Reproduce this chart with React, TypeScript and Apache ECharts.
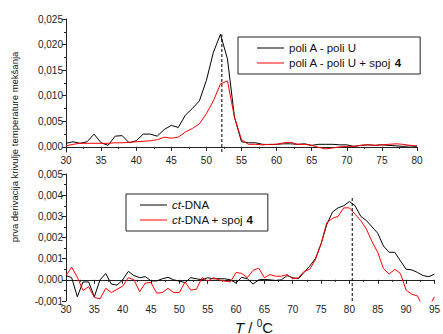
import React, { useEffect, useRef } from "react";
import * as echarts from "echarts";

const tempTop = [30,31,32,33,34,35,36,37,38,39,40,41,42,43,44,45,46,47,48,49,50,51,52,53,54,55,56,57,58,59,60,61,62,63,64,65,66,67,68,69,70,71,72,73,74,75,76,77,78,79,80];
const poliAU = [0.0007,0.001,0.0007,0.001,0.0025,0.0008,0.0003,0.0021,0.0022,0.0008,0.0012,0.0025,0.0025,0.0021,0.0034,0.0042,0.0038,0.0062,0.0075,0.009,0.013,0.0185,0.022,0.0172,0.0058,0.001,0.0008,0.0008,0.0005,0.00045,0.0005,0.0006,0.0006,0.0005,0.0006,0.0003,0.0005,0.0005,0.0005,0.0004,0.0004,0.0001,0.0003,0.0004,0.0003,0.0004,0.0003,0.0002,0.0001,0.0002,0.0001];
const poliAU4 = [0.0002,0.0005,0.0007,0.0007,0.0007,0.0007,0.0007,0.0008,0.0008,0.0009,0.001,0.0011,0.0012,0.0014,0.0019,0.0017,0.0019,0.0029,0.0036,0.0045,0.0065,0.009,0.0123,0.0129,0.0058,0.0014,0.0005,0.0005,0.0004,0.0005,0.0005,0.0008,0.0009,0.0005,0.0005,0.0003,-0.0001,-0.0004,-0.0002,0.0,0.0001,0.0001,0.0003,0.0004,0.0003,0.0004,0.0005,0.0006,0.0005,0.0003,0.0002];
const tempBottom = [30,31,32,33,34,35,36,37,38,39,40,41,42,43,44,45,46,47,48,49,50,51,52,53,54,55,56,57,58,59,60,61,62,63,64,65,66,67,68,69,70,71,72,73,74,75,76,77,78,79,80,81,82,83,84,85,86,87,88,89,90,91,92,93,94,95];
const ctDNA = [0.0002,0.0001,-0.0008,-0.0001,-0.0001,-0.0008,0.0,0.0003,-0.0002,-0.00025,0.0,0.0004,0.0002,0.0001,0.00015,-0.00005,-0.00005,0.00005,0.00012,0.0,-0.00006,-0.00013,0.0001,0.00005,0.0,0.0001,0.00005,0.00005,0.00005,0.0,-0.00015,0.00012,0.00005,-0.0002,0.0,0.00002,0.0,-0.00003,0.0,0.0002,0.0001,0.00005,0.00035,0.00065,0.001,0.0017,0.0026,0.0032,0.0034,0.0035,0.0037,0.0035,0.003,0.0028,0.0025,0.0022,0.0016,0.0013,0.0013,0.0009,0.0005,0.00047,0.00035,0.0002,0.00015,0.00027];
const ctDNA4 = [0.0002,0.0006,0.00012,-0.0005,-0.00033,-0.00083,-0.0009,-0.0004,-0.0006,-0.00045,-0.0003,0.0001,0.0,-0.00056,-0.00015,-0.00013,-0.00063,-0.0006,-0.0004,-0.0006,-0.0006,-0.0001,-0.00048,-0.00045,0.0001,-0.00006,0.0001,0.0,-0.00006,-0.0001,0.00035,0.0003,0.0001,0.00045,0.00055,0.0001,0.00025,0.00017,0.00017,0.00025,0.00005,0.0001,0.0004,0.0005,0.00095,0.0017,0.0027,0.0029,0.003,0.0034,0.0034,0.0031,0.0028,0.0024,0.0018,0.0013,0.00053,0.00027,0.0005,0.0003,-0.00048,-0.00068,-0.00076,-0.0013,-0.0013,-0.0008];
const topMajorY = [0, 0.005, 0.01, 0.015, 0.02, 0.025];
const topMinorY = [0.0025, 0.0075, 0.0125, 0.0175, 0.0225];
const peakTop = [[52.2, -0.001], [52.2, 0.022]];
const peakBottom = [[80.5, -0.001], [80.5, 0.0039]];
const names = ["poli A - poli U", "poli A - poli U + spoj 4", "ct-DNA", "ct-DNA + spoj 4"];

const FONT = "Liberation Sans, Arial, sans-serif";
const fmt = (v: number) => v.toFixed(3).replace(".", ",");
const zip = (xs: number[], ys: number[]) => xs.map((x, i) => [x, ys[i]]);

export default function App() {
  const ref = useRef<HTMLDivElement>(null);
  useEffect(() => {
    document.body.style.margin = "0";
    const chart = echarts.init(ref.current!, null, { renderer: "svg" });
    const axisCommon = {
      axisLine: { lineStyle: { color: "#222", width: 1 } },
      axisTick: { lineStyle: { color: "#222" }, length: 4 },
      minorTick: { show: true, splitNumber: 2, length: 2, lineStyle: { color: "#222" } },
      splitLine: { show: false },
      axisLabel: { color: "#222", fontSize: 10, fontFamily: FONT, margin: 3 },
    };
    const legendCommon = {
      orient: "vertical" as const,
      borderColor: "#222",
      borderWidth: 1,
      borderRadius: 0,
      icon: "rect",
      itemWidth: 27,
      itemHeight: 1,
      itemGap: 3,
      textStyle: {
        fontSize: 11.5,
        fontFamily: FONT,
        color: "#111",
        lineHeight: 12,
        rich: {
          b: { fontWeight: "bold", fontSize: 11.5, fontFamily: FONT, color: "#111" },
          i: { fontStyle: "italic", fontSize: 11.5, fontFamily: FONT, color: "#111" },
        },
      },
      formatter: (n: string) =>
        n.replace(/^ct/, "{i|ct}").replace(/spoj 4$/, "spoj {b|4}"),
    };
    chart.setOption({
      animation: false,
      grid: [
        { left: 66, top: 19, right: 26, height: 133 },
        { left: 66, top: 174, right: 5, height: 127 },
      ],
      xAxis: [
        { ...axisCommon, type: "value", gridIndex: 0, min: 30, max: 80, interval: 5 },
        { ...axisCommon, type: "value", gridIndex: 1, min: 30, max: 95, interval: 5 },
      ],
      yAxis: [
        {
          ...axisCommon,
          type: "value",
          gridIndex: 0,
          position: "left",
          min: -0.001,
          max: 0.025,
          minorTick: { show: false },
          axisTick: { ...axisCommon.axisTick, customValues: topMajorY },
          axisLabel: { ...axisCommon.axisLabel, customValues: topMajorY, formatter: fmt },
        },
        {
          type: "value",
          gridIndex: 0,
          position: "left",
          min: -0.001,
          max: 0.025,
          axisLine: { show: false },
          splitLine: { show: false },
          axisLabel: { show: false },
          axisTick: { show: true, length: 2, lineStyle: { color: "#222" }, customValues: topMinorY },
        },
        {
          ...axisCommon,
          type: "value",
          gridIndex: 1,
          position: "left",
          min: -0.001,
          max: 0.005,
          interval: 0.001,
          axisLabel: { ...axisCommon.axisLabel, formatter: fmt },
        },
      ],
      legend: [
        {
          ...legendCommon,
          data: [names[0], names[1]],
          left: 238,
          top: 37,
          padding: [5, 19, 5, 19],
        },
        {
          ...legendCommon,
          data: [names[2], names[3]],
          left: 126,
          top: 194,
          padding: [5, 15, 5, 14],
        },
      ],
      series: [
        { name: names[0], type: "line", xAxisIndex: 0, yAxisIndex: 0, data: zip(tempTop, poliAU), symbol: "none", lineStyle: { color: "#000", width: 1 }, itemStyle: { color: "#000" } },
        { name: names[1], type: "line", xAxisIndex: 0, yAxisIndex: 0, data: zip(tempTop, poliAU4), symbol: "none", lineStyle: { color: "#ff0000", width: 1 }, itemStyle: { color: "#ff0000" } },
        { name: "peakTop", type: "line", xAxisIndex: 0, yAxisIndex: 0, data: peakTop, symbol: "none", lineStyle: { color: "#000", width: 1, type: [3, 2] }, silent: true },
        { name: names[2], type: "line", xAxisIndex: 1, yAxisIndex: 2, data: zip(tempBottom, ctDNA), symbol: "none", lineStyle: { color: "#000", width: 1 }, itemStyle: { color: "#000" } },
        { name: names[3], type: "line", xAxisIndex: 1, yAxisIndex: 2, data: zip(tempBottom, ctDNA4), symbol: "none", lineStyle: { color: "#ff0000", width: 1 }, itemStyle: { color: "#ff0000" } },
        { name: "peakBottom", type: "line", xAxisIndex: 1, yAxisIndex: 2, data: peakBottom, symbol: "none", lineStyle: { color: "#000", width: 1, type: [3, 2] }, silent: true },
      ],
      graphic: [
        {
          type: "text",
          x: 14,
          y: 147,
          rotation: Math.PI / 2,
          style: {
            text: "prva derivacija krivulje temperature mekšanja",
            fontSize: 9.5,
            fontFamily: FONT,
            fill: "#111",
            align: "center",
            verticalAlign: "middle",
          },
        },
        {
          type: "text",
          x: 254,
          y: 327,
          style: {
            text: "{i|T} / {s|0}C",
            fontSize: 15,
            fontFamily: FONT,
            fill: "#111",
            align: "center",
            verticalAlign: "middle",
            rich: {
              i: { fontStyle: "italic", fontSize: 15, fontFamily: FONT, fill: "#111" },
              s: { fontSize: 10, fontFamily: FONT, fill: "#111", verticalAlign: "top", padding: [0, 0, 8, 0] },
            },
          },
        },
      ],
    });
    return () => chart.dispose();
  }, []);
  return <div ref={ref} style={{ width: 443, height: 334 }} />;
}
